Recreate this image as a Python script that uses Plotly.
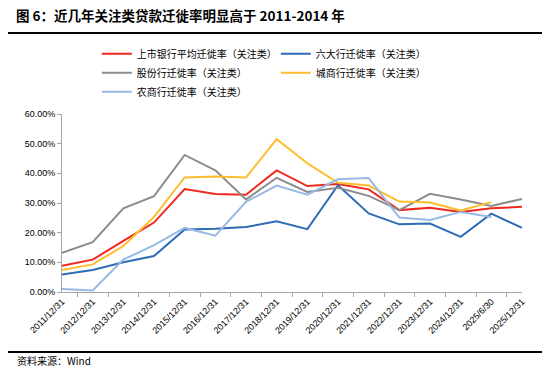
import plotly.graph_objects as go

categories = ["2011/12/31", "2012/12/31", "2013/12/31", "2014/12/31", "2015/12/31",
              "2016/12/31", "2017/12/31", "2018/12/31", "2019/12/31", "2020/12/31",
              "2021/12/31", "2022/12/31", "2023/12/31", "2024/12/31", "2025/6/30", "2025/12/31"]

listed_avg = [8.8, 10.9, 17.2, 23.4, 34.7, 33.0, 32.8, 41.0, 35.7, 36.4, 34.6, 27.6, 28.4, 27.0, 28.2, 28.7]
big_six = [5.9, 7.4, 10.0, 12.1, 21.1, 21.3, 21.9, 23.8, 21.2, 36.0, 26.5, 22.8, 23.1, 18.6, 26.4, 21.6]
joint_stock = [13.2, 16.8, 28.2, 32.3, 46.2, 41.0, 31.2, 38.5, 33.7, 35.1, 32.4, 27.6, 33.1, 31.2, 29.0, 31.4]
city_comm = [7.4, 9.3, 15.5, 25.3, 38.6, 38.9, 38.6, 51.5, 43.4, 36.8, 35.9, 30.5, 30.2, 27.5, 30.3, None]
rural_comm = [1.0, 0.5, 10.9, 15.8, 21.6, 19.0, 30.4, 35.9, 32.8, 38.0, 38.4, 25.1, 24.3, 27.0, 25.3, None]

series = [
    ("上市银行平均迁徙率（关注类）", listed_avg, "#F0281E"),
    ("六大行迁徙率（关注类）", big_six, "#2E6CB5"),
    ("股份行迁徙率（关注类）", joint_stock, "#8C8C8C"),
    ("城商行迁徙率（关注类）", city_comm, "#FDBD2C"),
    ("农商行迁徙率（关注类）", rural_comm, "#97B9E4"),
]

FONT = "Noto Sans CJK SC"

fig = go.Figure()
for name, vals, color in series:
    fig.add_trace(go.Scatter(
        x=categories, y=[v / 100 if v is not None else None for v in vals],
        mode="lines", name=name, line=dict(color=color, width=2),
    ))

fig.update_layout(
    width=542, height=360,
    margin=dict(l=54, r=28, t=106, b=76, autoexpand=False),
    plot_bgcolor="white", paper_bgcolor="white",
    font=dict(family=FONT, size=9, color="#000000"),
    showlegend=True,
    legend=dict(
        orientation="h", x=0.0757, xanchor="left", y=1.42, yanchor="top",
        entrywidth=134, entrywidthmode="pixels",
        font=dict(family=FONT, size=10), itemwidth=30,
        tracegroupgap=0, bgcolor="rgba(0,0,0,0)",
    ),
    xaxis=dict(
        type="category", tickangle=-45, showgrid=False,
        showline=True, linecolor="#A6A6A6", linewidth=1,
        ticks="outside", tickson="boundaries", ticklen=4, tickcolor="#A6A6A6",
        tickfont=dict(family="Liberation Sans", size=9),
    ),
    yaxis=dict(
        range=[0, 0.6], dtick=0.1, tickformat=".2%", showgrid=False,
        showline=True, linecolor="#A6A6A6", linewidth=1,
        ticks="outside", ticklen=4, tickcolor="#A6A6A6",
        tickfont=dict(family="Liberation Sans", size=9), zeroline=False,
    ),
)

PH = 178.0
# title and footer
fig.add_annotation(text="<b>图 6：近几年关注类贷款迁徙率明显高于 2011-2014 年</b>",
                   xref="paper", yref="paper", x=-48 / 460, y=1 + (114 - 15) / PH,
                   xanchor="left", yanchor="middle", showarrow=False,
                   font=dict(family=FONT, size=13.5, color="#000000"))
fig.add_annotation(text="资料来源：Wind",
                   xref="paper", yref="paper", x=-47 / 460, y=-(360 - 292) / PH,
                   xanchor="left", yanchor="middle", showarrow=False,
                   font=dict(family=FONT, size=10, color="#000000"))
# separator lines
fig.add_shape(type="line", xref="paper", yref="paper",
              x0=-54 / 460, x1=1 + 22 / 460, y0=1 + (114 - 6) / PH, y1=1 + (114 - 6) / PH,
              line=dict(color="#000000", width=1))
fig.add_shape(type="line", xref="paper", yref="paper",
              x0=-54 / 460, x1=1 + 22 / 460, y0=1 + (114 - 33) / PH, y1=1 + (114 - 33) / PH,
              line=dict(color="#000000", width=2))
fig.add_shape(type="line", xref="paper", yref="paper",
              x0=-54 / 460, x1=1 + 22 / 460, y0=-(352 - 292) / PH, y1=-(352 - 292) / PH,
              line=dict(color="#000000", width=2))

fig.write_html("out.html")
